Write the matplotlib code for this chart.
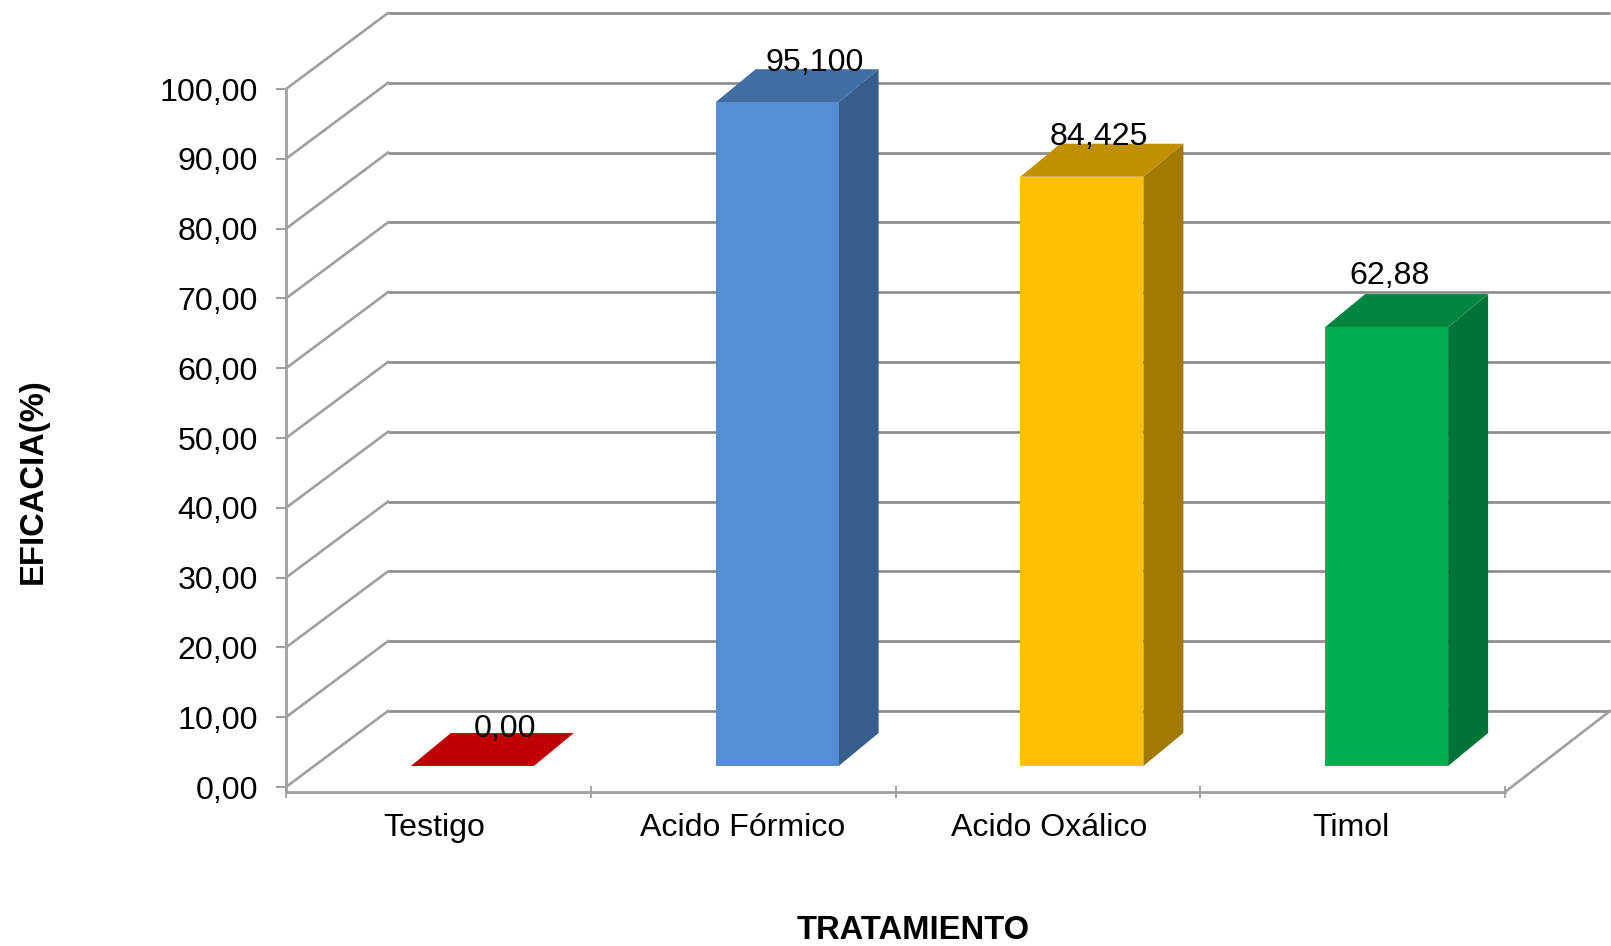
import matplotlib
matplotlib.use("Agg")
import matplotlib.pyplot as plt
from matplotlib.patches import Polygon

plt.rcParams['font.family'] = ['Liberation Sans', 'DejaVu Sans']

# Chart data
categories = ["Testigo", "Acido Fórmico", "Acido Oxálico", "Timol"]
efficacy = [0.0, 95.1, 84.425, 62.88]
value_labels = ["0,00", "95,100", "84,425", "62,88"]
y_ticks = [0, 10, 20, 30, 40, 50, 60, 70, 80, 90, 100]
y_tick_labels = ["0,00", "10,00", "20,00", "30,00", "40,00", "50,00",
                 "60,00", "70,00", "80,00", "90,00", "100,00"]

# Face colours per bar: front, top, side
front_colors = ["#C00000", "#558ED5", "#FFC000", "#00B050"]
top_colors = ["#C00000", "#426FA3", "#C09000", "#008540"]
side_colors = ["#8F0000", "#365D8C", "#A37A00", "#007436"]

# Label nudges in pixels, measured from the bar's top front centre
label_shift = [(33, 37), (38, 39), (17, 40), (3, 51)]
# Horizontal nudges of the category labels in pixels
category_shift = [-4, 0, 1, -2]

W, H = 1611, 946
LEFT, RIGHT, TOP, BOTTOM = 286, 1505, 89, 792
FONT = 23.1
TITLE_FONT = 23.6
GRID = "#8A8A8A"
AXIS = "#A0A0A0"
LINE = 1.9

fig = plt.figure(figsize=(W / 100, H / 100), dpi=100, facecolor="white")
ax = fig.add_axes([LEFT / W, 1 - BOTTOM / H, (RIGHT - LEFT) / W, (BOTTOM - TOP) / H])
ax.set_xlim(0, 4)
y_per_px = 100 / 698
ax.set_ylim(-(BOTTOM - 787) * y_per_px, 100)
x_per_px = 4 / (RIGHT - LEFT)


def shifted(x, y, px, py):
    """Move a data point by a screen offset given in pixels (py upward)."""
    return x + px * x_per_px, y + py * y_per_px


# Oblique depth of the chart walls, in pixels
WALL_DX, WALL_DY = 102, 76

# Back wall gridlines and the diagonal side-wall lines
for v in y_ticks:
    x0, y0 = shifted(0, v, WALL_DX, WALL_DY)
    x1, y1 = shifted(4, v, 105, WALL_DY)
    ax.plot([x0, x1], [y0, y1], color=GRID, lw=LINE, zorder=1, clip_on=False,
            solid_capstyle="butt")
    ax.plot([0, x0], [v, y0], color=AXIS, lw=LINE, zorder=1, clip_on=False)

# Floor edge on the right side
x1, y1 = shifted(4, 0, 105, WALL_DY)
x_end, y_end = shifted(4, 0, 0, -5)
ax.plot([x_end, x1], [y_end, y1], color=AXIS, lw=LINE, zorder=1, clip_on=False)

# Bars drawn as three faces with an oblique offset
BAR_FRONT = (34, 21)
BAR_BACK = (74, 54)
BAR_WIDTH = 123 * x_per_px
for i, v in enumerate(efficacy):
    c = i + 0.5
    l, r = c - BAR_WIDTH / 2, c + BAR_WIDTH / 2
    fl_b = shifted(l, 0, *BAR_FRONT)
    fr_b = shifted(r, 0, *BAR_FRONT)
    fl_t = shifted(l, v, *BAR_FRONT)
    fr_t = shifted(r, v, *BAR_FRONT)
    br_b = shifted(r, 0, *BAR_BACK)
    br_t = shifted(r, v, *BAR_BACK)
    bl_t = shifted(l, v, *BAR_BACK)
    ax.add_patch(Polygon([fr_b, br_b, br_t, fr_t], facecolor=side_colors[i],
                         edgecolor="none", zorder=3, clip_on=False))
    ax.add_patch(Polygon([fl_t, fr_t, br_t, bl_t], facecolor=top_colors[i],
                         edgecolor="none", zorder=3, clip_on=False))
    ax.add_patch(Polygon([fl_b, fr_b, fr_t, fl_t], facecolor=front_colors[i],
                         edgecolor="none", zorder=4, clip_on=False))
    sx, sy = label_shift[i]
    lx, ly = shifted(c, v, BAR_FRONT[0] + sx, BAR_FRONT[1] + sy)
    ax.text(lx, ly, value_labels[i], fontsize=FONT, color="black", ha="center",
            va="center", zorder=5, clip_on=False)

# Axes
for side in ("top", "right"):
    ax.spines[side].set_visible(False)
for side in ("left", "bottom"):
    ax.spines[side].set_color(AXIS)
    ax.spines[side].set_linewidth(2.0)
ax.patch.set_alpha(0)

ax.set_yticks(y_ticks)
ax.set_yticklabels(y_tick_labels, fontsize=FONT)
ax.tick_params(axis="y", length=7.2, width=1.5, color=AXIS, pad=13, labelcolor="black")
ax.set_xticks([0, 1, 2, 3, 4])
ax.set_xticklabels([])
ax.tick_params(axis="x", which="major", direction="inout", length=9, width=1.3, color=AXIS)
ax.set_xticks([i + 0.5 + category_shift[i] * x_per_px for i in range(4)], minor=True)
ax.set_xticklabels(categories, minor=True, fontsize=FONT)
ax.tick_params(axis="x", which="minor", length=0, pad=15, labelcolor="black")

fig.text(913 / W, 1 - 930 / H, "TRATAMIENTO", fontsize=TITLE_FONT, fontweight="bold",
         ha="center", va="center")
fig.text(33 / W, 1 - 481 / H, "EFICACIA(%)", fontsize=TITLE_FONT, fontweight="bold",
         rotation=90, ha="center", va="center")

fig.savefig("out.png", dpi=100, facecolor="white")
